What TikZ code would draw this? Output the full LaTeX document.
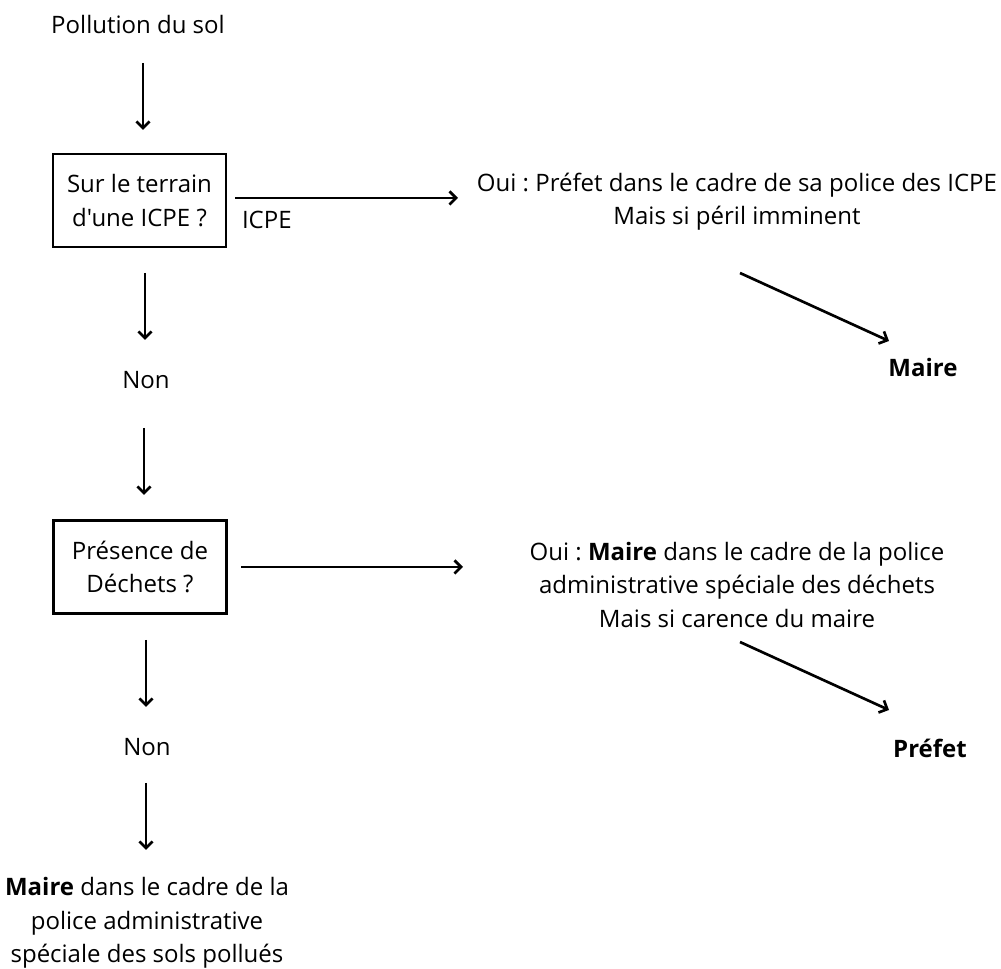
\documentclass[tikz,border=0pt]{standalone}
\usepackage{fontspec}
\defaultfontfeatures[\rmfamily]{}
\setmainfont{Open Sans}[Ligatures=TeXOff]
\usetikzlibrary{arrows.meta}
\frenchspacing
\begin{document}
\begin{tikzpicture}[x=0.75pt,y=-0.75pt,
  every node/.style={inner sep=0pt, outer sep=0pt, align=center, font=\fontsize{18}{25}\selectfont},
  arr/.style={line width=2pt, -{Straight Barb[length=5pt,width=10pt]}},
  qbox/.style={draw, line width=2pt, minimum width=129.75pt, minimum height=69.75pt}]
\useasboundingbox (0,0) rectangle (1001,969);
% nodes
\node (pol) at (138,25) {Pollution du sol};
\node[qbox] (b1) at (139.5,200.5) {Sur le terrain\\d'une ICPE ?};
\node[anchor=west] (icpe) at (242,220) {ICPE};
\node (oui1) at (737,202) {Oui : Préfet dans le cadre de sa police des ICPE\\Mais si péril imminent};
\node (maire1) at (923,368) {\textbf{Maire}};
\node (non1) at (146,380) {Non};
\node[qbox] (b2) at (140,567) {Présence de\\Déchets ?};
\node (oui2) at (737,585) {Oui : \textbf{Maire} dans le cadre de la police\\administrative spéciale des déchets\\Mais si carence du maire};
\node (prefet) at (930,748) {\textbf{Préfet}};
\node (non2) at (147,747) {Non};
\node (fin) at (147,923) {\textbf{Maire} dans le cadre de la\\police administrative\\spéciale des sols pollués};
% connector ends
\coordinate (a1s) at (143,63);  \coordinate (a1e) at (143,130);
\coordinate (h1s) at (235,198); \coordinate (h1e) at (458,198);
\coordinate (d1s) at (740,273); \coordinate (d1e) at (889,341);
\coordinate (a2s) at (145,273); \coordinate (a2e) at (145,340);
\coordinate (a3s) at (144,428); \coordinate (a3e) at (144,495);
\coordinate (h2s) at (241,567); \coordinate (h2e) at (463,567);
\coordinate (d2s) at (740,642); \coordinate (d2e) at (889,710);
\coordinate (a4s) at (146,640); \coordinate (a4e) at (146,707);
\coordinate (a5s) at (146,783); \coordinate (a5e) at (146,850);
% connectors
\draw[arr] (a1s) -- (a1e);
\draw[arr] (h1s) -- (h1e);
\draw[arr] (d1s) -- (d1e);
\draw[arr] (a2s) -- (a2e);
\draw[arr] (a3s) -- (a3e);
\draw[arr] (h2s) -- (h2e);
\draw[arr] (d2s) -- (d2e);
\draw[arr] (a4s) -- (a4e);
\draw[arr] (a5s) -- (a5e);
\end{tikzpicture}
\end{document}
